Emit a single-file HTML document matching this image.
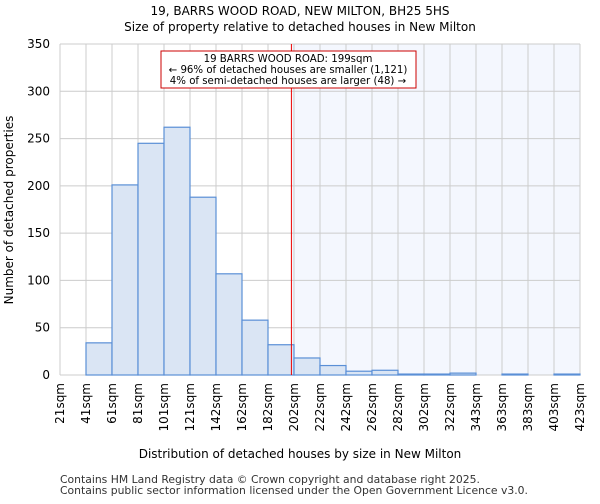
<!DOCTYPE html>
<html><head><meta charset="utf-8"><style>
body{margin:0;background:#fff;font-family:"DejaVu Sans","Liberation Sans",sans-serif;}
</style></head><body>
<svg id="chart" width="600" height="500" xmlns="http://www.w3.org/2000/svg" font-family="DejaVu Sans, Liberation Sans, sans-serif">
<text x="300" y="15" text-anchor="middle" font-size="12">19, BARRS WOOD ROAD, NEW MILTON, BH25 5HS</text>
<text x="300" y="31" text-anchor="middle" font-size="12">Size of property relative to detached houses in New Milton</text>
<g id="grid"></g><g id="bars"></g><g id="axes"></g>
<text x="300" y="458" text-anchor="middle" font-size="12">Distribution of detached houses by size in New Milton</text>
<text transform="translate(13,210) rotate(-90)" text-anchor="middle" font-size="12">Number of detached properties</text>
<text x="60" y="483" font-size="10.8" fill="#333">Contains HM Land Registry data © Crown copyright and database right 2025.</text>
<text x="60" y="494" font-size="10.8" fill="#333">Contains public sector information licensed under the Open Government Licence v3.0.</text>
</svg>
<script>
const categories=["21sqm","41sqm","61sqm","81sqm","101sqm","121sqm","142sqm","162sqm","182sqm","202sqm","222sqm","242sqm","262sqm","282sqm","302sqm","322sqm","343sqm","363sqm","383sqm","403sqm","423sqm"];
const counts=[0,34,201,245,262,188,107,58,32,18,10,4,5,1,1,2,0,1,0,1];
const yTicks=[0,50,100,150,200,250,300,350];
const propertySize=199;
const binStart=21, binWidth=20;
const X0=60,X1=580,Y0=375,Y1=44,YMAX=350;
const NS="http://www.w3.org/2000/svg";
const bw=(X1-X0)/counts.length;
const xb=i=>X0+i*bw;
const xv=v=>X0+(v-binStart)/binWidth*bw;
const y=v=>Y0-(v/YMAX)*(Y0-Y1);
function mk(tag,attrs,parent,txt){const e=document.createElementNS(NS,tag);for(const k in attrs)e.setAttribute(k,attrs[k]);if(txt!==undefined)e.textContent=txt;document.getElementById(parent).appendChild(e);return e;}
const px=xv(propertySize);
let sh=mk('rect',{x:px,y:Y1,width:X1-px,height:Y0-Y1,fill:'#f4f7fe'},'grid');


yTicks.forEach(t=>{let l=mk('line',{x1:X0,x2:X1,y1:y(t),y2:y(t),stroke:'#ccc','stroke-width':1},'grid');


let tx=mk('text',{x:X0-10,y:y(t)+4,'text-anchor':'end','font-size':12},'axes',t);

});
categories.forEach((c,i)=>{let l=mk('line',{x1:xb(i),x2:xb(i),y1:Y1,y2:Y0,stroke:'#ccc','stroke-width':1},'grid');


let tx=mk('text',{transform:`translate(${xb(i)+4},${Y0+8}) rotate(-90)`,'text-anchor':'end','font-size':12},'axes',c);

});
counts.forEach((v,i)=>{if(v<=0)return;let r=mk('rect',{x:xb(i),y:y(v),width:bw,height:Y0-y(v),fill:'#dae5f4',stroke:'#5a8fd6','stroke-width':1.2},'bars');

});
let rl=mk('line',{x1:px,x2:px,y1:Y1,y2:Y0,stroke:'#e00','stroke-width':1},'bars');


let bx=mk('rect',{x:161,y:51,width:255,height:37,fill:'#fff',stroke:'#c00','stroke-width':1},'bars');


["19 BARRS WOOD ROAD: 199sqm","← 96% of detached houses are smaller (1,121)","4% of semi-detached houses are larger (48) →"].forEach((s,k)=>{let t=mk('text',{x:288,y:62+k*11,'text-anchor':'middle','font-size':10.2},'bars',s);

});
</script>
</body></html>
